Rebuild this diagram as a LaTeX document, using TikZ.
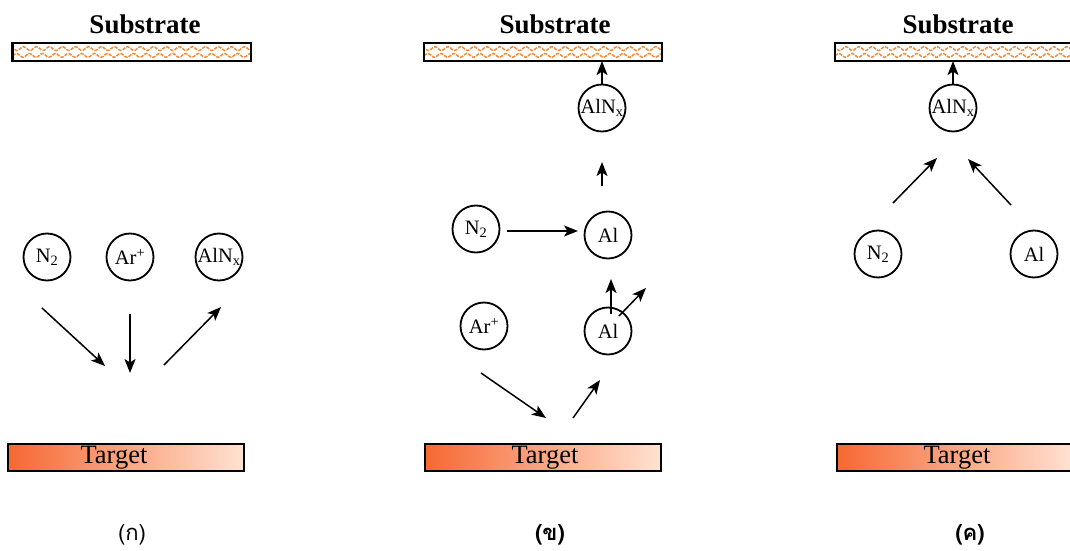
\documentclass[tikz,border=0pt]{standalone}
\usepackage{fontspec}
\setmainfont{Liberation Serif}
\newfontfamily\thaifont[Script=Thai]{Loma}
\usetikzlibrary{arrows.meta,decorations.pathmorphing,calc}
\definecolor{waveorange}{RGB}{240,140,60}
\definecolor{tgtdark}{RGB}{246,104,50}
\definecolor{tgtlight}{RGB}{255,226,210}
\tikzset{
  particle/.style={draw, circle, line width=1.8pt, minimum size=47pt, inner sep=0pt,
                   font=\fontsize{20.5}{24}\selectfont},
  flow/.style={line width=1.5pt, -{Stealth[length=14pt,width=11pt,inset=3.5pt]}},
  subbox/.style={line width=2.2pt, minimum width=236pt, minimum height=16pt, inner sep=0pt},
  tgtbox/.style={draw, line width=2.2pt, minimum width=236pt, minimum height=27pt, inner sep=0pt,
                 left color=tgtdark, right color=tgtlight},
  wave/.style={draw=waveorange, line width=1.5pt, dash pattern=on 3.5pt off 1.2pt,
               decorate, decoration={snake, segment length=13pt, amplitude=1.9pt}},
  title/.style={font=\fontsize{27}{30}\selectfont\bfseries},
  tgtlabel/.style={font=\fontsize{26.5}{30}\selectfont},
  caption/.style={font=\fontsize{22}{26}\selectfont\thaifont, inner sep=0pt}
}
% draws a substrate plate: node name, centre
\newcommand{\substrateplate}[2]{%
  \node[subbox] (#1) at (#2) {};
  \begin{scope}
    \clip (#1.south west) rectangle (#1.north east);
    \draw[wave] ($(#1.west)+(-6,-3.4)$) -- ($(#1.east)+(6,-3.4)$);
    \draw[wave] ($(#1.west)+(0,3.4)$) -- ($(#1.east)+(12,3.4)$);
  \end{scope}
  \draw[line width=2.2pt] (#1.south west) rectangle (#1.north east);
}
\begin{document}
\begin{tikzpicture}[x=1pt, y=-1pt]
\useasboundingbox (0,0) rectangle (1070,551);
\clip (0,0) rectangle (1070,551);

% ---------------- first stage ----------------
\node[title] (s1) at (145,24) {Substrate};
\substrateplate{sub1}{131.5,52}
\node[tgtbox] (tg1) at (126,457.5) {};
\node[tgtlabel] (tg1t) at (114,458) {Target};
\node[caption] (c1) at (132,535) {(ก)};

\node[particle] (n2a) at (47,257) {N\textsubscript{2}};
\node[particle] (ara) at (130,257) {Ar\textsuperscript{+}};
\node[particle] (alnxa) at (219,257) {AlN\textsubscript{x}};

\coordinate (a1s) at (42,308);  \coordinate (a1e) at (105,366);
\coordinate (a2s) at (130,314); \coordinate (a2e) at (130,373);
\coordinate (a3s) at (164,365); \coordinate (a3e) at (221,307);
\draw[flow] (a1s) -- (a1e);
\draw[flow] (a2s) -- (a2e);
\draw[flow] (a3s) -- (a3e);

% ---------------- second stage ----------------
\node[title] (s2) at (555,24) {Substrate};
\substrateplate{sub2}{543,52}
\node[tgtbox] (tg2) at (543,457.5) {};
\node[tgtlabel] (tg2t) at (545,458) {Target};
\node[caption] (c2) at (550,535) {\bfseries(ข)};

\node[particle] (alnxb) at (602,108) {AlN\textsubscript{x}};
\node[particle] (n2b) at (476,229) {N\textsubscript{2}};
\node[particle] (alb) at (608,235) {Al};
\node[particle] (arb) at (484,326) {Ar\textsuperscript{+}};
\node[particle] (alc) at (608,331) {Al};

\draw[flow] (alnxb.north) -- (alnxb.north |- sub2.south);
\coordinate (b1s) at (602,186); \coordinate (b1e) at (602,162);
\draw[flow] (b1s) -- (b1e);
\coordinate (b2s) at (507,231); \coordinate (b2e) at (578,231);
\draw[flow] (b2s) -- (b2e);
\coordinate (b3s) at (611,314); \coordinate (b3e) at (611,279);
\draw[flow] (b3s) -- (b3e);
\coordinate (b4s) at (619,316); \coordinate (b4e) at (646,288);
\draw[flow] (b4s) -- (b4e);
\coordinate (b5s) at (481,373); \coordinate (b5e) at (546,418);
\draw[flow] (b5s) -- (b5e);
\coordinate (b6s) at (573,418); \coordinate (b6e) at (600,380);
\draw[flow] (b6s) -- (b6e);

% ---------------- third stage ----------------
\node[title] (s3) at (958,24) {Substrate};
\substrateplate{sub3}{954,52}
\node[tgtbox] (tg3) at (955,457.5) {};
\node[tgtlabel] (tg3t) at (957,458) {Target};
\node[caption] (c3) at (970,535) {\bfseries(ค)};

\node[particle] (alnxc) at (953,108) {AlN\textsubscript{x}};
\node[particle] (n2c) at (878,254) {N\textsubscript{2}};
\node[particle] (ald) at (1034,254) {Al};

\draw[flow] (alnxc.north) -- (alnxc.north |- sub3.south);
\coordinate (c1s) at (893,203);  \coordinate (c1e) at (937,158);
\coordinate (c2s) at (1011,205); \coordinate (c2e) at (968,159);
\draw[flow] (c1s) -- (c1e);
\draw[flow] (c2s) -- (c2e);
\end{tikzpicture}
\end{document}
